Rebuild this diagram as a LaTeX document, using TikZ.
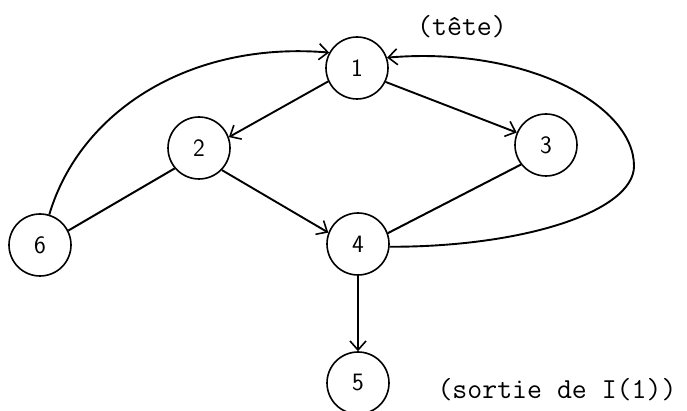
\documentclass[tikz,border=0pt]{standalone}
\usepackage{fontspec}
\usetikzlibrary{arrows.meta}
\begin{document}
\begin{tikzpicture}[x=1pt,y=1pt,
  vertex/.style={circle,draw,line width=1.6pt,minimum size=62pt,inner sep=0pt,font=\fontsize{25}{25}\sffamily},
  arc/.style={line width=1.9pt,-{Straight Barb[length=9pt,width=16pt,line width=1.6pt]}},
  edge/.style={line width=2pt},
  lbl/.style={font=\fontsize{29}{29}\ttfamily,inner sep=0pt}]
\useasboundingbox (0,0) rectangle (687,411);
\clip (0,0) rectangle (687,411);
\node[vertex] (n1) at (357,343) {1};
\node[vertex] (n2) at (199,263) {2};
\node[vertex] (n3) at (546,266) {3};
\node[vertex] (n4) at (358,167) {4};
\node[vertex] (n5) at (358,28) {5};
\node[vertex] (n6) at (40,166) {6};
\node[lbl] (tete) at (462,384) {(tête)};
\node[lbl] (sortie) at (557,21) {(sortie de I(1))};
\draw[arc] (n1.205) -- (n2.20);
\draw[arc] (n1.334) -- (n3.157);
\draw[arc] (n2.-44) -- (n4.159);
\draw[arc] (n4.south) -- (n5.north);
\draw[edge] (n2.220) -- (n6.27);
\draw[edge] (n3.218) -- (n4.20);
\draw[arc] (n6.73) .. controls (80,300) and (190,370) .. (n1.151);
\coordinate (turn) at (634,245);
\draw[arc] (n4.-5) .. controls (525,164) and (634,200) .. (turn)
  .. controls (634,306) and (526,365) .. (n1.19);
\end{tikzpicture}
\end{document}
